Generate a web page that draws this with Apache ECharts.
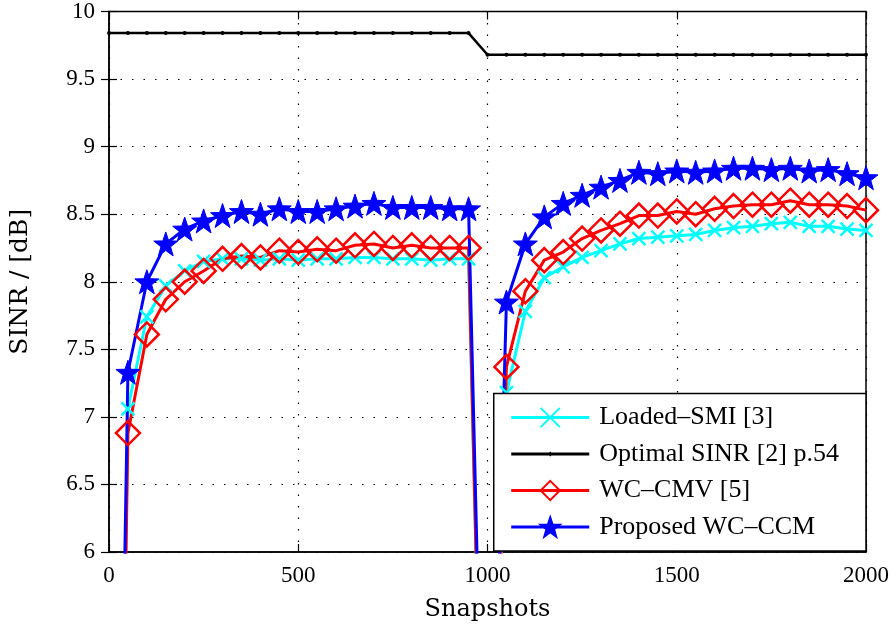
<!DOCTYPE html>
<html>
<head>
<meta charset="utf-8">
<script src="https://cdn.jsdelivr.net/npm/echarts@6/dist/echarts.min.js"></script>
<style>
  html, body { margin: 0; padding: 0; background: #fff; }
  #chart { width: 896px; height: 629px; }
</style>
</head>
<body>
<div id="chart"></div>
<script>
// snapshot positions of the plotted samples
const snapshots = [0, 50, 100, 150, 200, 250, 300, 350, 400, 450, 500, 550, 600, 650, 700, 750, 800, 850, 900, 950,
  1000, 1050, 1100, 1150, 1200, 1250, 1300, 1350, 1400, 1450, 1500, 1550, 1600, 1650, 1700, 1750, 1800, 1850, 1900, 1950, 2000]

const loadedSmi = [-1.5, 7.06, 7.74, 7.97, 8.08, 8.15, 8.17, 8.17, 8.16, 8.17, 8.16, 8.17, 8.17, 8.18, 8.18, 8.17, 8.17, 8.16, 8.17, 8.17,
  2.6, 7.18, 7.78, 8.03, 8.11, 8.18, 8.23, 8.28, 8.32, 8.33, 8.34, 8.35, 8.38, 8.40, 8.41, 8.43, 8.44, 8.41, 8.41, 8.39, 8.38]

const optimalSinr = [9.84, 9.84, 9.84, 9.84, 9.84, 9.84, 9.84, 9.84, 9.84, 9.84, 9.84, 9.84, 9.84, 9.84, 9.84, 9.84, 9.84, 9.84, 9.84, 9.84,
  9.68, 9.68, 9.68, 9.68, 9.68, 9.68, 9.68, 9.68, 9.68, 9.68, 9.68, 9.68, 9.68, 9.68, 9.68, 9.68, 9.68, 9.68, 9.68, 9.68, 9.68]

const wcCmv = [-1.9, 6.88, 7.61, 7.87, 8.00, 8.08, 8.17, 8.19, 8.18, 8.23, 8.22, 8.24, 8.23, 8.27, 8.28, 8.25, 8.27, 8.25, 8.25, 8.25,
  2.5, 7.37, 7.93, 8.16, 8.22, 8.32, 8.38, 8.43, 8.49, 8.49, 8.52, 8.50, 8.54, 8.56, 8.57, 8.57, 8.60, 8.57, 8.57, 8.56, 8.53]

const wcCcm = [-1.0, 7.33, 8.00, 8.28, 8.39, 8.45, 8.49, 8.52, 8.50, 8.54, 8.52, 8.52, 8.54, 8.56, 8.58, 8.55, 8.55, 8.55, 8.54, 8.54,
  2.8, 7.85, 8.28, 8.48, 8.58, 8.64, 8.70, 8.75, 8.81, 8.80, 8.82, 8.81, 8.82, 8.84, 8.84, 8.83, 8.84, 8.82, 8.83, 8.80, 8.77]

const xTicks = [0, 500, 1000, 1500, 2000]
const yTicks = ['6', '6.5', '7', '7.5', '8', '8.5', '9', '9.5', '10']

const names = ['Loaded\u2013SMI [3]', 'Optimal SINR [2] p.54', 'WC\u2013CMV [5]', 'Proposed WC\u2013CCM']

const pairs = ys => snapshots.map((x, i) => [x, ys[i]])

const starPath = 'path://M0,-10 L2.35,-3.24 L9.51,-3.09 L3.8,1.24 L5.88,8.09 L0,4 L-5.88,8.09 L-3.8,1.24 L-9.51,-3.09 L-2.35,-3.24 Z'
const diamondPath = 'path://M0,-10 L10,0 L0,10 L-10,0 Z'
const crossPath = 'path://M-10,-10 L10,10 M10,-10 L-10,10'
// legend icon for the black curve: thick line with a small dot
const dotLinePath = 'path://M0,-1.5 L78,-1.5 L78,1.5 L0,1.5 Z M36.5,0 L39,-2.5 L41.5,0 L39,2.5 Z'

const font = 'Liberation Serif'
const gridDots = { color: '#000', width: 1.2, type: [1.5, 10] }
const ticks = { show: true, inside: true, length: 8, lineStyle: { color: '#000', width: 1.2 } }

const chart = echarts.init(document.getElementById('chart'))

const option = {
  animation: false,
  backgroundColor: '#fff',
  grid: { left: 108, right: 30, top: 11, bottom: 77, show: true, borderColor: '#000', borderWidth: 1.5, backgroundColor: 'transparent' },
  legend: {
    data: [
      { name: names[0] },
      { name: names[1], icon: dotLinePath, itemStyle: { color: '#000' } },
      { name: names[2] },
      { name: names[3] }
    ],
    orient: 'vertical',
    right: 30,
    bottom: 78,
    itemWidth: 78,
    itemHeight: 24,
    itemGap: 10.5,
    padding: [11, 27, 11, 16],
    backgroundColor: '#fff',
    borderColor: '#000',
    borderWidth: 1.5,
    borderRadius: 0,
    lineStyle: { width: 3 },
    textStyle: { fontFamily: font, fontSize: 26, color: '#000', padding: [0, 0, 0, 5] }
  },
  xAxis: [{
    type: 'value', min: 0, max: 2000, interval: 500,
    name: 'Snapshots', nameLocation: 'middle', nameGap: 46,
    nameTextStyle: { fontFamily: 'DejaVu Serif', fontSize: 24, color: '#000' },
    axisLine: { show: true, lineStyle: { color: '#000', width: 1.5 } },
    axisTick: ticks,
    axisLabel: { fontFamily: font, fontSize: 23, color: '#000', margin: 12, formatter: v => xTicks.includes(v) ? String(v) : '' },
    splitLine: { show: true, lineStyle: gridDots }
  }, {
    type: 'value', min: 0, max: 2000, interval: 500, position: 'top',
    axisLine: { show: false }, axisTick: ticks,
    axisLabel: { show: false }, splitLine: { show: false }
  }],
  yAxis: [{
    type: 'value', min: 6, max: 10, interval: 0.5,
    name: 'SINR / [dB]', nameLocation: 'middle', nameGap: 76,
    nameTextStyle: { fontFamily: 'DejaVu Serif', fontSize: 25, color: '#000' },
    axisLine: { show: true, lineStyle: { color: '#000', width: 1.5 } },
    axisTick: ticks,
    axisLabel: { fontFamily: font, fontSize: 23, color: '#000', margin: 14, formatter: v => yTicks[Math.round((v - 6) * 2)] },
    splitLine: { show: true, lineStyle: gridDots }
  }, {
    type: 'value', min: 6, max: 10, interval: 0.5, position: 'right',
    axisLine: { show: false }, axisTick: ticks,
    axisLabel: { show: false }, splitLine: { show: false }
  }],
  series: [
    {
      name: names[0], type: 'line', data: pairs(loadedSmi), clip: true,
      symbol: crossPath, symbolSize: 13, showAllSymbol: true,
      lineStyle: { color: '#00ffff', width: 3 },
      itemStyle: { color: '#00ffff', borderColor: '#00ffff', borderWidth: 2.5 }
    },
    {
      name: names[1], type: 'line', data: pairs(optimalSinr), clip: true,
      symbol: 'circle', symbolSize: 4, showAllSymbol: true,
      lineStyle: { color: '#000', width: 2.5 },
      itemStyle: { color: '#000' }
    },
    {
      name: names[2], type: 'line', data: pairs(wcCmv), clip: true,
      symbol: diamondPath, symbolSize: 24, showAllSymbol: true,
      lineStyle: { color: '#ff0000', width: 3 },
      itemStyle: { color: 'rgba(255,255,255,0)', borderColor: '#ff0000', borderWidth: 2.5 }
    },
    {
      name: names[3], type: 'line', data: pairs(wcCcm), clip: true,
      symbol: starPath, symbolSize: 24, showAllSymbol: true,
      lineStyle: { color: '#0000ff', width: 3 },
      itemStyle: { color: '#0000ff', borderColor: '#0000ff', borderWidth: 1 }
    }
  ]
}

chart.setOption(option)
</script>
</body>
</html>
